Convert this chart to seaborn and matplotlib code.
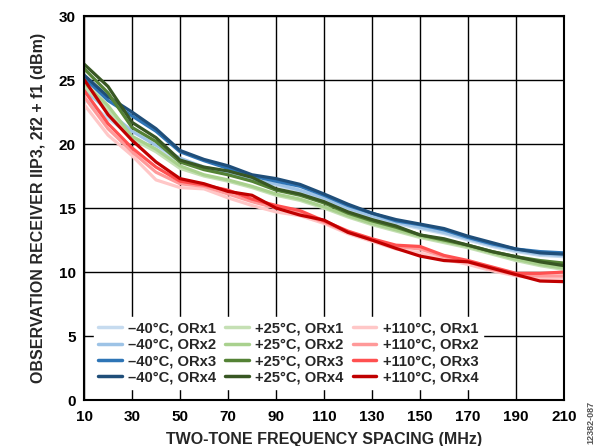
import pandas as pd
import numpy as np
from matplotlib import pyplot as plt
import seaborn as sns

# frequency spacing (MHz)
freq = list(range(10, 211, 10))

# IIP3 (dBm) per temperature / receiver
m40_orx1 = [23.6, 22.0, 20.6, 19.6, 18.7, 18.1, 17.7, 17.1, 16.8, 16.3, 15.7, 14.9, 14.3, 13.8, 13.4, 13.0, 12.5, 12.0, 11.6, 11.3, 11.2]
m40_orx2 = [24.3, 22.6, 21.0, 19.9, 18.9, 18.2, 17.8, 17.2, 16.9, 16.4, 15.8, 15.0, 14.4, 13.9, 13.5, 13.1, 12.6, 12.1, 11.7, 11.4, 11.3]
m40_orx3 = [25.2, 23.4, 22.2, 21.0, 19.4, 18.7, 18.1, 17.5, 17.1, 16.7, 16.0, 15.2, 14.6, 14.0, 13.7, 13.3, 12.7, 12.2, 11.8, 11.6, 11.5]
m40_orx4 = [25.4, 23.7, 22.5, 21.2, 19.5, 18.8, 18.3, 17.6, 17.3, 16.85, 16.1, 15.3, 14.6, 14.1, 13.75, 13.4, 12.8, 12.3, 11.8, 11.5, 11.4]

p25_orx1 = [24.5, 22.7, 20.4, 19.4, 18.1, 17.5, 17.1, 16.6, 16.0, 15.6, 15.0, 14.3, 13.7, 13.2, 12.7, 12.3, 11.9, 11.4, 10.9, 10.5, 10.2]
p25_orx2 = [24.8, 23.0, 20.6, 19.6, 18.3, 17.6, 17.2, 16.7, 16.1, 15.7, 15.1, 14.4, 13.8, 13.3, 12.8, 12.4, 12.0, 11.5, 11.0, 10.6, 10.3]
p25_orx3 = [25.9, 24.0, 21.3, 20.2, 18.6, 18.0, 17.6, 17.1, 16.4, 16.0, 15.4, 14.6, 14.0, 13.5, 12.9, 12.5, 12.1, 11.6, 11.2, 10.9, 10.7]
p25_orx4 = [26.25, 24.5, 21.7, 20.5, 18.75, 18.2, 17.9, 17.4, 16.5, 16.1, 15.5, 14.7, 14.1, 13.6, 12.9, 12.6, 12.1, 11.6, 11.2, 10.8, 10.5]

p110_orx1 = [23.1, 20.7, 19.1, 17.2, 16.6, 16.5, 15.8, 15.2, 14.7, 14.4, 13.8, 13.0, 12.4, 11.8, 11.5, 11.0, 10.6, 10.1, 9.7, 9.5, 9.5]
p110_orx2 = [23.7, 21.2, 19.4, 17.8, 16.9, 16.7, 16.1, 15.5, 15.0, 14.6, 13.9, 13.1, 12.5, 12.0, 11.8, 11.2, 10.8, 10.2, 9.8, 9.7, 9.7]
p110_orx3 = [24.2, 21.6, 19.7, 18.2, 17.1, 16.8, 16.4, 15.7, 15.2, 14.8, 14.0, 13.2, 12.6, 12.1, 12.0, 11.3, 10.9, 10.4, 9.9, 9.9, 10.0]
p110_orx4 = [25.05, 22.3, 20.3, 18.6, 17.3, 16.9, 16.3, 16.0, 15.0, 14.45, 14.06, 13.1, 12.5, 11.85, 11.25, 10.9, 10.8, 10.3, 9.8, 9.3, 9.25]

labels = ['–40°C, ORx1', '–40°C, ORx2', '–40°C, ORx3', '–40°C, ORx4',
          '+25°C, ORx1', '+25°C, ORx2', '+25°C, ORx3', '+25°C, ORx4',
          '+110°C, ORx1', '+110°C, ORx2', '+110°C, ORx3', '+110°C, ORx4']
series = [m40_orx1, m40_orx2, m40_orx3, m40_orx4,
          p25_orx1, p25_orx2, p25_orx3, p25_orx4,
          p110_orx1, p110_orx2, p110_orx3, p110_orx4]
colors = ['#c6dbef', '#9dc3e6', '#2e75b6', '#1f4e79',
          '#c5e0b4', '#a9d18e', '#548235', '#385723',
          '#ffc7c7', '#ff9999', '#ff5050', '#c00000']

### long-form table for seaborn
df = pd.concat([pd.DataFrame({'freq': freq, 'iip3': s, 'curve': lab})
                for lab, s in zip(labels, series)], ignore_index=True)

sns.set_style('white')
plt.rcParams['font.family'] = ['Liberation Sans', 'DejaVu Sans']
plt.rcParams['font.weight'] = 'bold'

fig = plt.figure(figsize=(6, 4.46), dpi=100)
ax = fig.add_axes([0.14, 0.103, 0.8, 0.861])

sns.lineplot(data=df, x='freq', y='iip3', hue='curve', hue_order=labels,
             palette=dict(zip(labels, colors)), linewidth=2.3, ax=ax)

ax.set_xlim(10, 210)
ax.set_ylim(0, 30)
ax.set_xticks(range(10, 211, 20))
ax.set_yticks(range(0, 31, 5))
ax.grid(True, color='black', linewidth=1.0)
ax.set_axisbelow(True)
for sp in ax.spines.values():
    sp.set_color('black')
    sp.set_linewidth(1.5)
ax.tick_params(axis='both', length=0, labelsize=11, labelcolor='black')
ax.tick_params(axis='x', pad=7)
ax.tick_params(axis='y', pad=6)
for t in ax.get_xticklabels() + ax.get_yticklabels():
    t.set_fontweight('bold')

ax.set_xlabel('TWO-TONE FREQUENCY SPACING (MHz)', fontsize=11.5, fontweight='bold', labelpad=6)
ax.set_ylabel('OBSERVATION RECEIVER IIP3, 2f2 + f1 (dBm)', fontsize=11.5, fontweight='bold', labelpad=9)

handles, lbls = ax.get_legend_handles_labels()
leg = ax.legend(handles, lbls, ncol=3, loc='lower left', bbox_to_anchor=(0.005, 0.01),
                frameon=True, fancybox=False, framealpha=1, edgecolor='white',
                prop={'weight': 'bold', 'size': 10.6}, handlelength=1.6,
                handletextpad=0.45, columnspacing=0.6, labelspacing=0.16,
                borderpad=0.3)
for h in leg.get_lines():
    h.set_linewidth(2.5)

fig.text(0.985, 0.005, '12382-087', rotation=90, fontsize=6.5, color='#555555',
         ha='center', va='bottom')

plt.savefig('out.png', dpi=100)
